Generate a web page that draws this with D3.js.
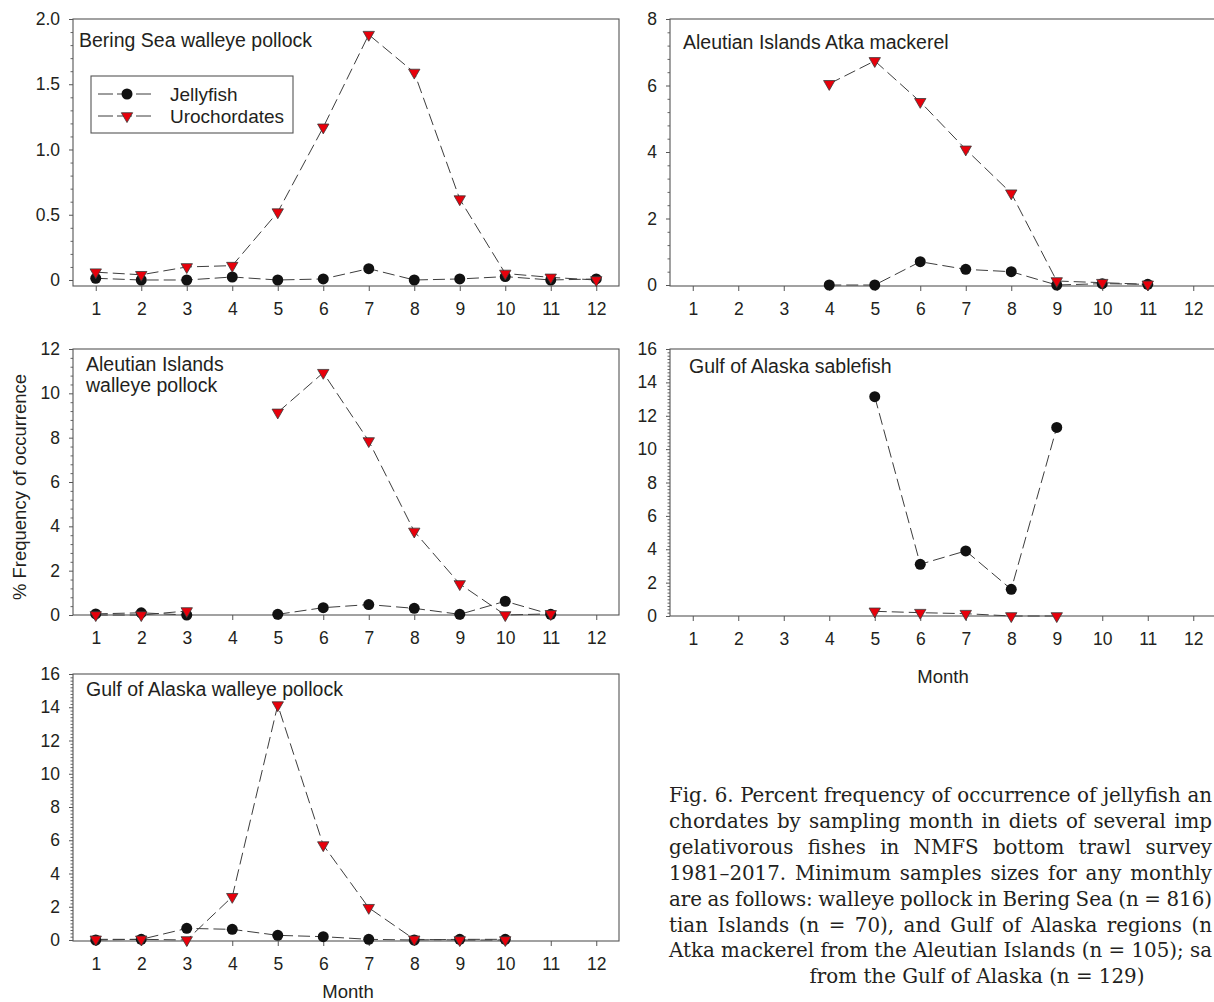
<!DOCTYPE html>
<html>
<head>
<meta charset="utf-8">
<style>
body{margin:0;background:#fff}
svg{display:block}
text{fill:#231f20}
</style>
</head>
<body>
<svg width="1214" height="1002"></svg>
<script src="https://d3js.org/d3.v7.min.js"></script>
<script>
// months on the x axis
var months = [1,2,3,4,5,6,7,8,9,10,11,12];

// % frequency of occurrence, null = no sample that month
var beringJelly = [0.013,0,0,0.023,0,0.008,0.087,0,0.008,0.026,0,0.008];
var beringUro   = [0.06,0.04,0.10,0.11,0.52,1.17,1.88,1.59,0.62,0.05,0.02,0];
var atkaJelly   = [null,null,null,0,0,0.70,0.47,0.40,0,0.04,0.02,null];
var atkaUro     = [null,null,null,6.05,6.74,5.51,4.08,2.76,0.12,0.07,0.02,null];
var aiPollockJelly = [0.05,0.10,0,null,0.03,0.33,0.47,0.30,0.03,0.62,0.03,null];
var aiPollockUro   = [0,0,0.18,null,9.14,10.93,7.85,3.77,1.40,0,0.05,null];
var sableJelly  = [null,null,null,null,13.14,3.10,3.90,1.60,11.30,null,null,null];
var sableUro    = [null,null,null,null,0.28,0.20,0.14,0,0,null,null,null];
var goaPollockJelly = [0,0.04,0.70,0.64,0.28,0.20,0.04,0,0.04,0.04,null,null];
var goaPollockUro   = [0.04,0.04,0,2.60,14.13,5.71,1.94,0.04,0,0,null,null];

// tick values and labels
var beringTicks = [0,0.5,1,1.5,2];
var beringTickLabels = ["0","0.5","1.0","1.5","2.0"];
var atkaTicks = [0,2,4,6,8];
var twelveTicks = [0,2,4,6,8,10,12];
var sixteenTicks = [0,2,4,6,8,10,12,14,16];

var seriesNames = ["Jellyfish","Urochordates"];
var titles = [["Bering Sea walleye pollock"],["Aleutian Islands Atka mackerel"],
  ["Aleutian Islands","walleye pollock"],["Gulf of Alaska sablefish"],["Gulf of Alaska walleye pollock"]];

var captionLines = [
  "Fig. 6. Percent frequency of occurrence of jellyfish an",
  "chordates by sampling month in diets of several imp",
  "gelativorous fishes in NMFS bottom trawl survey",
  "1981\u20132017. Minimum samples sizes for any monthly",
  "are as follows: walleye pollock in Bering Sea (n = 816)",
  "tian Islands (n = 70), and Gulf of Alaska regions (n",
  "Atka mackerel from the Aleutian Islands (n = 105); sa",
  "from the Gulf of Alaska (n = 129)"
];

var sans = "'Liberation Sans', Arial, sans-serif";
var svg = d3.select('svg');

var panels = [
  {jelly:beringJelly, uro:beringUro, ticks:beringTicks, labels:beringTickLabels, minor:0.1, dom:[-0.046,2],
   x0:73, top:19, bottom:286, title:titles[0], tx:79, ty:47, legend:true},
  {jelly:atkaJelly, uro:atkaUro, ticks:atkaTicks, minor:0.4, dom:[-0.03,8],
   x0:670, top:19, bottom:286, title:titles[1], tx:683, ty:49},
  {jelly:aiPollockJelly, uro:aiPollockUro, ticks:twelveTicks, minor:0.4, dom:[0,12],
   x0:73, top:349, bottom:615, title:titles[2], tx:86, ty:371},
  {jelly:sableJelly, uro:sableUro, ticks:sixteenTicks, minor:0.2, dom:[0,16],
   x0:670, top:349, bottom:616, title:titles[3], tx:689, ty:373, month:[943,683]},
  {jelly:goaPollockJelly, uro:goaPollockUro, ticks:sixteenTicks, minor:0.2, dom:[-0.06,16],
   x0:73, top:674, bottom:941, title:titles[4], tx:86, ty:696, month:[348,998]}
];

var tri = d3.symbol().type(d3.symbolTriangle).size(56);

function drawMarkers(g, data, x, y, isUro) {
  var pts = months.map(function(m,i){return {m:m, v:data[i]};}).filter(function(d){return d.v!=null;});
  if (isUro) {
    g.selectAll(null).data(pts).enter().append('path')
      .attr('d', tri)
      .attr('transform', function(d){return 'translate('+x(d.m)+','+y(d.v)+') rotate(180)';})
      .attr('fill','#e8000b').attr('stroke','#3a3a3a').attr('stroke-width',0.8);
  } else {
    g.selectAll(null).data(pts).enter().append('circle')
      .attr('cx', function(d){return x(d.m);}).attr('cy', function(d){return y(d.v);})
      .attr('r',5.5).attr('fill','#111');
  }
}

panels.forEach(function(p) {
  var x = d3.scaleLinear().domain([0.5,12.5]).range([p.x0, p.x0+546]);
  var y = d3.scaleLinear().domain(p.dom).range([p.bottom, p.top]);
  var g = svg.append('g');

  // minor y ticks
  var n = Math.round(p.dom[1]/p.minor);
  var minors = d3.range(0,n+1).map(function(i){return +(i*p.minor).toFixed(3);})
    .filter(function(v){return p.ticks.indexOf(v)<0;});
  g.append('g').attr('transform','translate('+p.x0+',0)')
    .call(d3.axisLeft(y).tickValues(minors).tickFormat('').tickSize(2.5).tickSizeOuter(0))
    .call(function(a){a.select('.domain').remove(); a.selectAll('line').attr('stroke','#666');});

  // major y ticks
  var ya = d3.axisLeft(y).tickValues(p.ticks).tickSize(4).tickPadding(9).tickSizeOuter(0);
  if (p.labels) ya.tickFormat(function(d,i){return p.labels[i];});
  else ya.tickFormat(d3.format('d'));
  g.append('g').attr('transform','translate('+p.x0+',0)').call(ya)
    .call(function(a){
      a.select('.domain').remove();
      a.selectAll('line').attr('stroke','#555');
      a.selectAll('text').attr('font-family',sans).attr('font-size',17.5).attr('fill','#231f20');
    });

  // x axis
  g.append('g').attr('transform','translate(0,'+p.bottom+')')
    .call(d3.axisBottom(x).tickValues(months).tickSize(5).tickPadding(12).tickSizeOuter(0).tickFormat(d3.format('d')))
    .call(function(a){
      a.select('.domain').remove();
      a.selectAll('line').attr('stroke','#555');
      a.selectAll('text').attr('font-family',sans).attr('font-size',17.5).attr('fill','#231f20');
    });

  // frame
  g.append('rect').attr('x',p.x0).attr('y',p.top).attr('width',p.x0>600?560:546).attr('height',p.bottom-p.top)
    .attr('fill','none').attr('stroke','#555').attr('stroke-width',1.1);

  // dashed lines
  var line = d3.line().defined(function(d){return d.v!=null;})
    .x(function(d){return x(d.m);}).y(function(d){return y(d.v);});
  [p.jelly, p.uro].forEach(function(s) {
    g.append('path').datum(months.map(function(m,i){return {m:m, v:s[i]};}))
      .attr('d', line).attr('fill','none').attr('stroke','#3d3d3d').attr('stroke-width',1)
      .attr('stroke-dasharray','12,5');
  });
  drawMarkers(g, p.jelly, x, y, false);
  drawMarkers(g, p.uro, x, y, true);

  // title
  var t = g.append('text').attr('font-family',sans).attr('font-size',19.5).attr('x',p.tx).attr('y',p.ty);
  p.title.forEach(function(s,i){ t.append('tspan').attr('x',p.tx).attr('dy', i?21:0).text(s); });

  if (p.month) {
    g.append('text').attr('font-family',sans).attr('font-size',18.5).attr('text-anchor','middle')
      .attr('x',p.month[0]).attr('y',p.month[1]).text('Month');
  }

  if (p.legend) {
    var lg = g.append('g');
    lg.append('rect').attr('x',91).attr('y',76).attr('width',202).attr('height',57)
      .attr('fill','#fff').attr('stroke','#555').attr('stroke-width',1.1);
    seriesNames.forEach(function(name,i) {
      var ly = 94 + i*22;
      lg.append('line').attr('x1',98).attr('x2',151).attr('y1',ly).attr('y2',ly)
        .attr('stroke','#3d3d3d').attr('stroke-dasharray','15,4');
      if (i==0) lg.append('circle').attr('cx',127).attr('cy',ly).attr('r',5.5).attr('fill','#111');
      else lg.append('path').attr('d',tri).attr('transform','translate(127,'+ly+') rotate(180)')
        .attr('fill','#e8000b').attr('stroke','#3a3a3a').attr('stroke-width',0.8);
      lg.append('text').attr('font-family',sans).attr('font-size',19).attr('x',170).attr('y',ly+6.5).text(name);
    });
  }
});

// y axis title
svg.append('text').attr('font-family',sans).attr('font-size',18.5).attr('text-anchor','middle')
  .attr('transform','translate(26,487) rotate(-90)').text('% Frequency of occurrence');

// caption, justified lines cut by the page edge
var cap = svg.append('g').attr('font-family',"'DejaVu Serif', serif");
var capX = 669, capEnd = 1212;
var last = cap.append('text').attr('font-size',17).text(captionLines[7]);
var fs = 17 * 335 / last.node().getComputedTextLength();
last.remove();
captionLines.forEach(function(s,i) {
  var ty = 802 + i*25.9;
  var t = cap.append('text').attr('font-size',fs).attr('y',ty).text(s);
  if (i==7) { t.attr('x',977).attr('text-anchor','middle'); return; }
  t.attr('x',capX);
  var w = t.node().getComputedTextLength();
  var spaces = s.split(' ').length-1;
  t.attr('word-spacing', (capEnd - capX - w)/spaces);
});
</script>
</body>
</html>
